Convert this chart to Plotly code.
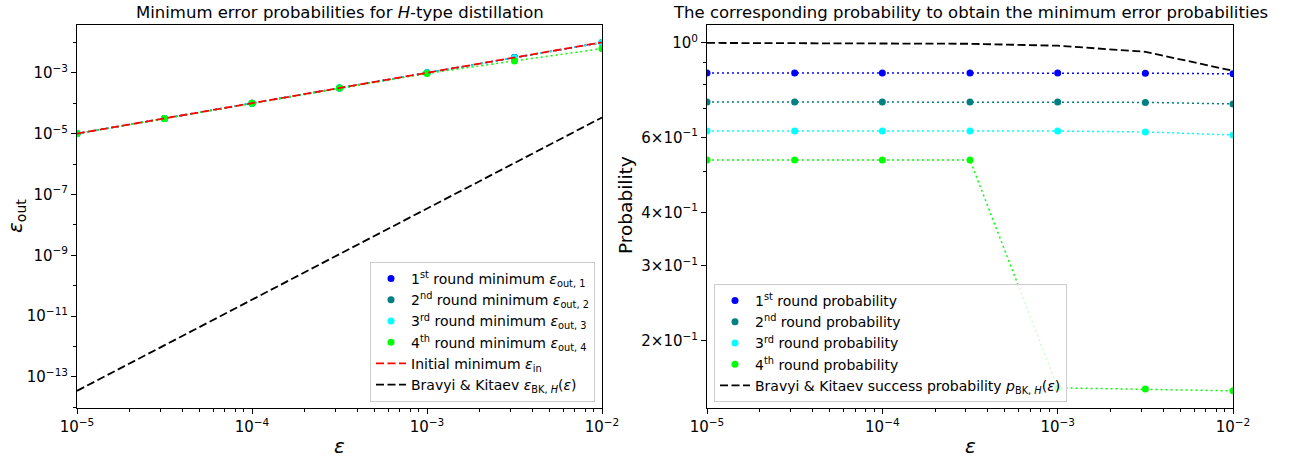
import plotly.graph_objects as go

# ---------------- data ----------------
eps = [1e-5, 3.162e-5, 1e-4, 3.162e-4, 1e-3, 3.162e-3, 1e-2]

# left panel: minimum output error
eout_1 = [1e-5, 3.162e-5, 1e-4, 3.162e-4, 1e-3, 3.15e-3, 9.9e-3]
eout_2 = [1e-5, 3.162e-5, 1e-4, 3.162e-4, 1e-3, 3.15e-3, 9.9e-3]
eout_3 = [1e-5, 3.162e-5, 1e-4, 3.162e-4, 1e-3, 3.12e-3, 9.8e-3]
eout_4 = [1e-5, 3.15e-5, 1e-4, 3.14e-4, 9.5e-4, 2.45e-3, 6.2e-3]
e_in = [1e-5, 3.162e-5, 1e-4, 3.162e-4, 1e-3, 3.162e-3, 1e-2]
e_bk = [3.5e-14, 1.107e-12, 3.5e-11, 1.107e-9, 3.5e-8, 1.1e-6, 3.4e-5]

# right panel: probabilities
p_1 = [0.850, 0.850, 0.850, 0.850, 0.850, 0.849, 0.846]
p_2 = [0.727, 0.727, 0.727, 0.727, 0.727, 0.725, 0.719]
p_3 = [0.621, 0.621, 0.621, 0.621, 0.621, 0.618, 0.608]
p_4 = [0.531, 0.531, 0.531, 0.531, 0.155, 0.154, 0.1525]
p_bk = [0.99985, 0.99953, 0.9985, 0.99526, 0.985, 0.953, 0.86]

round_names = ["1<sup>st</sup>", "2<sup>nd</sup>", "3<sup>rd</sup>", "4<sup>th</sup>"]
colors = ["#0000ff", "#008080", "#00ffff", "#00ff00"]

FONT = "DejaVu Sans"
fig = go.Figure()

left_series = [eout_1, eout_2, eout_3, eout_4]
right_series = [p_1, p_2, p_3, p_4]

DOT = "2px,3px"
DASH = "8px,3.5px"

# left panel dotted lines
for ys, c in zip(left_series, colors):
    fig.add_trace(go.Scatter(x=eps, y=ys, mode="lines", line=dict(color=c, width=1.5, dash=DOT),
                             showlegend=False, xaxis="x", yaxis="y", hoverinfo="skip"))
for i, (ys, c, n) in enumerate(zip(left_series, colors, round_names)):
    fig.add_trace(go.Scatter(x=eps, y=ys, mode="markers", marker=dict(color=c, size=7),
                             name=f"{n} round minimum <i>ε</i><sub>out, {i+1}</sub>",
                             legend="legend", xaxis="x", yaxis="y"))
fig.add_trace(go.Scatter(x=eps, y=e_in, mode="lines", line=dict(color="#ff0000", width=1.8, dash=DASH),
                         name="Initial minimum <i>ε</i><sub>in</sub>", legend="legend", xaxis="x", yaxis="y"))
fig.add_trace(go.Scatter(x=eps, y=e_bk, mode="lines", line=dict(color="black", width=1.8, dash=DASH),
                         name="Bravyi & Kitaev <i>ε</i><sub>BK, <i>H</i></sub>(<i>ε</i>)", legend="legend",
                         xaxis="x", yaxis="y"))

# right panel
for ys, c in zip(right_series, colors):
    fig.add_trace(go.Scatter(x=eps, y=ys, mode="lines", line=dict(color=c, width=1.5, dash=DOT),
                             showlegend=False, xaxis="x2", yaxis="y2", hoverinfo="skip"))
for i, (ys, c, n) in enumerate(zip(right_series, colors, round_names)):
    fig.add_trace(go.Scatter(x=eps, y=ys, mode="markers", marker=dict(color=c, size=7),
                             name=f"{n} round probability", legend="legend2", xaxis="x2", yaxis="y2"))
fig.add_trace(go.Scatter(x=eps, y=p_bk, mode="lines", line=dict(color="black", width=1.8, dash=DASH),
                         name="Bravyi & Kitaev success probability <i>p</i><sub>BK, <i>H</i></sub>(<i>ε</i>)",
                         legend="legend2", xaxis="x2", yaxis="y2"))

W, H = 1290, 457
def px_x(p): return p / W
def px_y(p): return 1 - p / H

top, bot = 25, 408
xl0, xl1 = 77, 602
xr0, xr1 = 707, 1233

xminor = [m * 10 ** k for k in range(-5, -2) for m in range(2, 10)]
xtv = [1e-5, 1e-4, 1e-3, 1e-2]
xtt = ["10<sup>−5</sup>", "10<sup>−4</sup>", "10<sup>−3</sup>", "10<sup>−2</sup>"]

axcommon = dict(type="log", showgrid=False, zeroline=False, showline=True, linecolor="black", linewidth=1,
                mirror=True, ticks="outside", ticklen=5, tickwidth=1, tickcolor="black", automargin=False,
                tickfont=dict(family=FONT, size=15, color="black"))

ytv_l = [10.0 ** k for k in (-13, -11, -9, -7, -5, -3)]
ytt_l = [f"10<sup>−{k}</sup>" for k in (13, 11, 9, 7, 5, 3)]
ymin_l = [10.0 ** k for k in (-14, -12, -10, -8, -6, -4, -2)]

ytv_r = [1.0, 0.6, 0.4, 0.3, 0.2]
ytt_r = ["10<sup>0</sup>", "6×10<sup>−1</sup>", "4×10<sup>−1</sup>", "3×10<sup>−1</sup>", "2×10<sup>−1</sup>"]
ymin_r = [0.5, 0.7, 0.8, 0.9]

minor_style = dict(ticks="outside", ticklen=3, tickwidth=0.8, tickcolor="black", showgrid=False)

legend_common = dict(bgcolor="rgba(255,255,255,0.8)", bordercolor="#cccccc", borderwidth=1,
                     font=dict(family=FONT, size=14, color="black"), itemwidth=30)

fig.update_layout(
    width=W, height=H, margin=dict(l=0, r=0, t=0, b=0, autoexpand=False),
    paper_bgcolor="white", plot_bgcolor="white",
    font=dict(family=FONT, color="black"),
    xaxis=dict(axcommon, domain=[px_x(xl0), px_x(xl1)], range=[-5, -2], anchor="y",
               tickvals=xtv, ticktext=xtt, minor=dict(minor_style, tickvals=xminor)),
    yaxis=dict(axcommon, domain=[px_y(bot), px_y(top)], range=[-14.02, -1.43], anchor="x",
               tickvals=ytv_l, ticktext=ytt_l, minor=dict(minor_style, tickvals=ymin_l)),
    xaxis2=dict(axcommon, domain=[px_x(xr0), px_x(xr1)], range=[-5, -2], anchor="y2",
                tickvals=xtv, ticktext=xtt, minor=dict(minor_style, tickvals=xminor)),
    yaxis2=dict(axcommon, domain=[px_y(bot), px_y(top)], range=[-0.857, 0.042], anchor="x2",
                tickvals=ytv_r, ticktext=ytt_r, minor=dict(minor_style, tickvals=ymin_r)),
    legend=dict(legend_common, x=px_x(595), y=px_y(402), xanchor="right", yanchor="bottom"),
    legend2=dict(legend_common, x=px_x(714), y=px_y(402), xanchor="left", yanchor="bottom"),
    annotations=[
        dict(text="Minimum error probabilities for <i>H</i>-type distillation", x=px_x((xl0 + xl1) / 2),
             y=px_y(12), xref="paper", yref="paper", showarrow=False, xanchor="center", yanchor="middle",
             font=dict(family=FONT, size=16.5)),
        dict(text="The corresponding probability to obtain the minimum error probabilities",
             x=px_x((xr0 + xr1) / 2), y=px_y(12), xref="paper", yref="paper", showarrow=False,
             xanchor="center", yanchor="middle", font=dict(family=FONT, size=16.5)),
        dict(text="<i>ε</i>", x=px_x((xl0 + xl1) / 2), y=px_y(446), xref="paper", yref="paper",
             showarrow=False, xanchor="center", yanchor="middle", font=dict(family=FONT, size=20)),
        dict(text="<i>ε</i>", x=px_x((xr0 + xr1) / 2), y=px_y(446), xref="paper", yref="paper",
             showarrow=False, xanchor="center", yanchor="middle", font=dict(family=FONT, size=20)),
        dict(text="<i>ε</i><sub>out</sub>", x=px_x(16), y=px_y(216), xref="paper", yref="paper",
             showarrow=False, xanchor="center", yanchor="middle", textangle=-90,
             font=dict(family=FONT, size=20)),
        dict(text="Probability", x=px_x(625), y=px_y(205), xref="paper", yref="paper",
             showarrow=False, xanchor="center", yanchor="middle", textangle=-90,
             font=dict(family=FONT, size=18.5)),
    ],
)

fig.write_html("out.html")
